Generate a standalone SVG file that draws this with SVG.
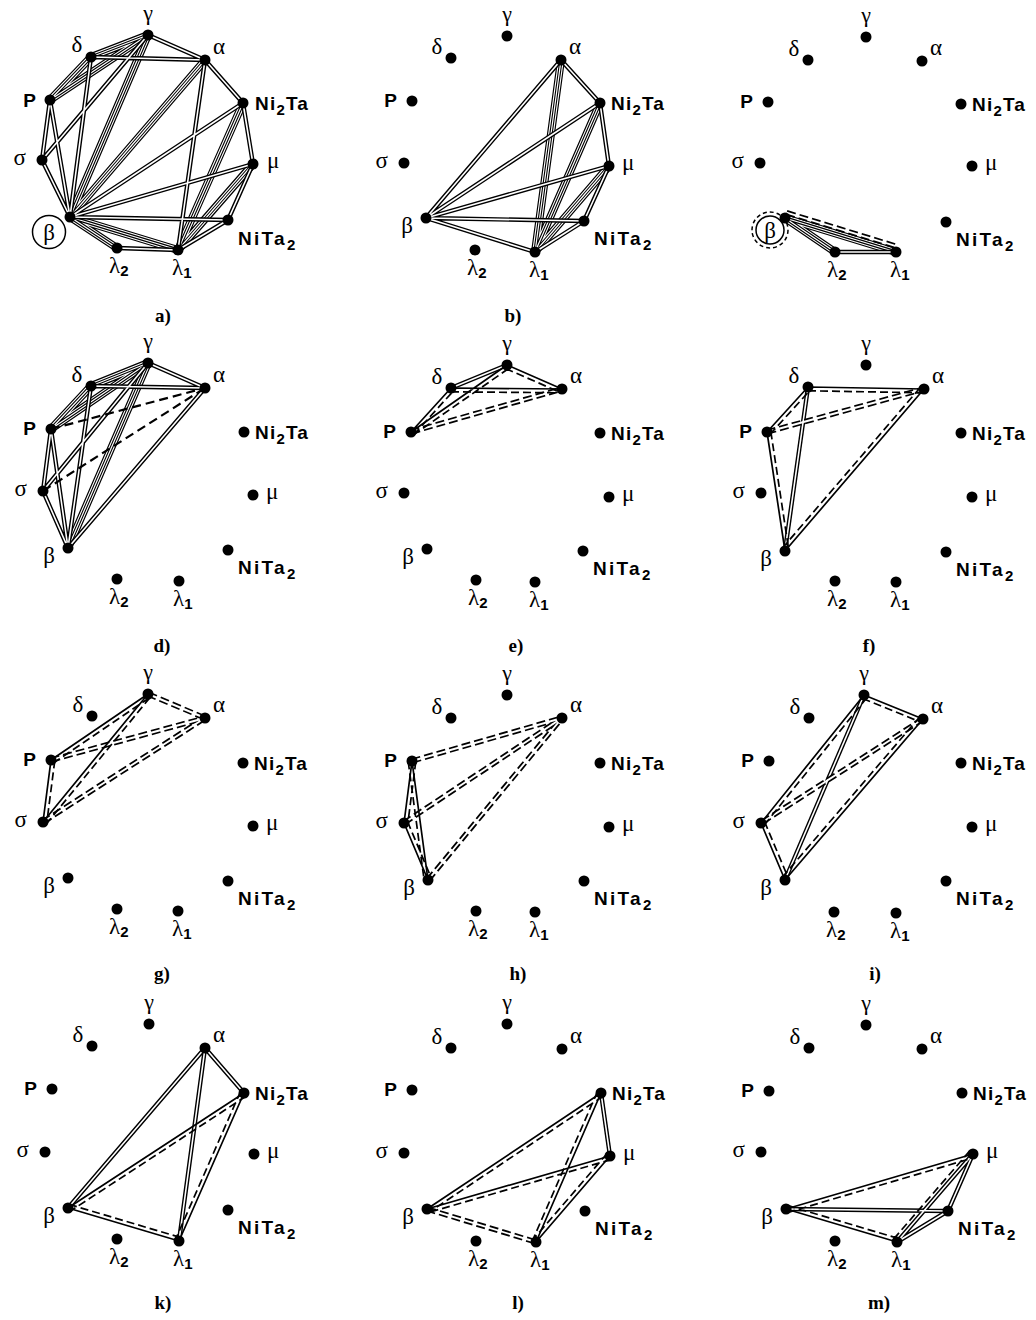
<svg xmlns="http://www.w3.org/2000/svg" xmlns:xlink="http://www.w3.org/1999/xlink" width="1036" height="1320" viewBox="0 0 1036 1320">
<style>
text{font-family:"Liberation Serif","Times New Roman",serif;fill:#000}
.gr{font-size:23px}
.gm{font-size:22px}
.b{font-family:"Liberation Sans",Arial,sans-serif;font-weight:bold;font-size:19px}
.sub{font-family:"Liberation Sans",Arial,sans-serif;font-weight:bold;font-size:15px}
.ni2{letter-spacing:1.2px}
.nit{letter-spacing:2.3px}
.m{text-anchor:middle}
.e{text-anchor:end}
.cap{font-weight:bold;font-size:19px;text-anchor:middle}
.d1{fill:none;stroke:#000;stroke-width:4.4}
.d2{fill:none;stroke:#fff;stroke-width:1.6}
.q1{fill:none;stroke:#000;stroke-width:8}
.q2{fill:none;stroke:#fff;stroke-width:5.6}
.q3{fill:none;stroke:#000;stroke-width:3.4}
.q4{fill:none;stroke:#fff;stroke-width:1.2}
.w1{fill:none;stroke:#000;stroke-width:5.4;stroke-dasharray:9 4}
.w2{fill:none;stroke:#fff;stroke-width:1.9}
.sl{fill:none;stroke:#000;stroke-width:1.7}
.ds{fill:none;stroke:#000;stroke-width:1.7;stroke-dasharray:8 4}
.dk{fill:none;stroke:#000;stroke-width:2.2;stroke-dasharray:9 5}
.ring{fill:none;stroke:#000;stroke-width:1.5}
.dring{fill:none;stroke:#000;stroke-width:1.5;stroke-dasharray:4 3}
</style>
<defs>
<path id="a-Q" d="M148 35L91 57M91 57L50 100M70 217L117 248M50 100L148 35M148 35L70 217M205 60L70 217M243 103L178 250M253 164L178 250M178 250L70 217"/>
<path id="a-D" d="M50 100L42 160M42 160L70 217M117 248L178 250M178 250L228 220M228 220L253 164M253 164L243 103M243 103L205 60M205 60L148 35M91 57L205 60M42 160L148 35M91 57L70 217M50 100L70 217M205 60L178 250M243 103L70 217M253 164L70 217M228 220L70 217"/>
<path id="b-Q" d="M561 60L535 252M600 103L535 252M609 166L535 252"/>
<path id="b-D" d="M561 60L600 103M561 60L426 218M600 103L609 166M600 103L426 218M609 166L584 221M609 166L426 218M584 221L426 218M584 221L535 252M426 218L535 252"/>
<path id="c-Q" d="M785 218L835 252M785 218L896 252"/>
<path id="c-D" d="M835 252L896 252"/>
<path id="c-W" d="M786.6 212.7L897.6 246.7"/>
<path id="d-Q" d="M148 363L91 386M148 363L51 429M148 363L68 548M91 386L51 429"/>
<path id="d-D" d="M148 363L205 388M148 363L43 491M91 386L205 388M91 386L68 548M51 429L43 491M51 429L68 548M43 491L68 548M205 388L68 548"/>
<path id="e-D" d="M451 388L507 365"/>
<path id="e-W" d="M411 432L562 389"/>
<path id="f-D" d="M808 387L785 551"/>
<path id="f-W" d="M767 432L924 389"/>
<path id="g-W" d="M148 694L205 718M51 760L205 718M43 822L205 718"/>
<path id="h-W" d="M412 761L562 718M404 823L562 718M428 880L562 718"/>
<path id="i-D" d="M864 695L785 880"/>
<path id="i-W" d="M923 719L761 823"/>
<path id="k-D" d="M205 1048L244 1093M205 1048L68 1208M205 1048L179 1241"/>
<path id="l-D" d="M601 1093L610 1156"/>
<path id="l-W" d="M427 1209L536 1242"/>
<path id="m-D" d="M786 1209L948 1211M973 1154L948 1211M948 1211L897 1242M973 1154L897 1242"/>
</defs>
<rect width="1036" height="1320" fill="#fff"/>

<!-- Panel a -->
<g id="panel-a">
<g id="a-connectors">
<use href="#a-Q" class="q1"/><use href="#a-Q" class="q2"/><use href="#a-Q" class="q3"/><use href="#a-Q" class="q4"/>
<use href="#a-D" class="d1"/><use href="#a-D" class="d2"/>
</g>
<g id="a-gamma"><circle cx="148" cy="35" r="5.5"/><text class="gr gm m" x="148" y="20">γ</text></g>
<g id="a-delta"><circle cx="91" cy="57" r="5.5"/><text class="gr m" x="77" y="52">δ</text></g>
<g id="a-alpha"><circle cx="205" cy="60" r="5.5"/><text class="gr" x="213" y="54">α</text></g>
<g id="a-ni2ta"><circle cx="243" cy="103" r="5.5"/><text class="b ni2" x="255" y="110">Ni<tspan class="sub" dy="5">2</tspan><tspan dy="-5">Ta</tspan></text></g>
<g id="a-mu"><circle cx="253" cy="164" r="5.5"/><text class="gr" x="267" y="168">μ</text></g>
<g id="a-nita2"><circle cx="228" cy="220" r="5.5"/><text class="b nit" x="238" y="245">NiTa<tspan class="sub" dy="5">2</tspan></text></g>
<g id="a-lambda1"><circle cx="178" cy="250" r="5.5"/><text class="gr" x="172" y="275">λ<tspan class="sub" dy="3">1</tspan></text></g>
<g id="a-lambda2"><circle cx="117" cy="248" r="5.5"/><text class="gr" x="109" y="273">λ<tspan class="sub" dy="3">2</tspan></text></g>
<g id="a-beta"><circle cx="70" cy="217" r="5.5"/><circle class="ring" cx="49" cy="232" r="16.5"/><text class="gr m" x="49" y="240">β</text></g>
<g id="a-sigma"><circle cx="42" cy="160" r="5.5"/><text class="gr e" x="26" y="165">σ</text></g>
<g id="a-p"><circle cx="50" cy="100" r="5.5"/><text class="b e" x="36" y="107">P</text></g>
<text class="cap" x="163" y="322">a)</text>
</g>

<!-- Panel b -->
<g id="panel-b">
<g id="b-connectors">
<use href="#b-Q" class="q1"/><use href="#b-Q" class="q2"/><use href="#b-Q" class="q3"/><use href="#b-Q" class="q4"/>
<use href="#b-D" class="d1"/><use href="#b-D" class="d2"/>
</g>
<g id="b-gamma"><circle cx="507" cy="36" r="5.5"/><text class="gr gm m" x="507" y="21">γ</text></g>
<g id="b-delta"><circle cx="451" cy="58" r="5.5"/><text class="gr m" x="437" y="54">δ</text></g>
<g id="b-alpha"><circle cx="561" cy="60" r="5.5"/><text class="gr" x="569" y="54">α</text></g>
<g id="b-ni2ta"><circle cx="600" cy="103" r="5.5"/><text class="b ni2" x="611" y="110">Ni<tspan class="sub" dy="5">2</tspan><tspan dy="-5">Ta</tspan></text></g>
<g id="b-mu"><circle cx="609" cy="166" r="5.5"/><text class="gr" x="622" y="170">μ</text></g>
<g id="b-nita2"><circle cx="584" cy="221" r="5.5"/><text class="b nit" x="594" y="245">NiTa<tspan class="sub" dy="5">2</tspan></text></g>
<g id="b-lambda1"><circle cx="535" cy="252" r="5.5"/><text class="gr" x="529" y="277">λ<tspan class="sub" dy="3">1</tspan></text></g>
<g id="b-lambda2"><circle cx="475" cy="250" r="5.5"/><text class="gr" x="467" y="275">λ<tspan class="sub" dy="3">2</tspan></text></g>
<g id="b-beta"><circle cx="426" cy="218" r="5.5"/><text class="gr e" x="413" y="233">β</text></g>
<g id="b-sigma"><circle cx="404" cy="163" r="5.5"/><text class="gr e" x="388" y="168">σ</text></g>
<g id="b-p"><circle cx="412" cy="101" r="5.5"/><text class="b e" x="397" y="107">P</text></g>
<text class="cap" x="513" y="322">b)</text>
</g>

<!-- Panel c -->
<g id="panel-c">
<g id="c-connectors">
<use href="#c-Q" class="q1"/><use href="#c-Q" class="q2"/><use href="#c-Q" class="q3"/><use href="#c-Q" class="q4"/>
<use href="#c-D" class="d1"/><use href="#c-D" class="d2"/>
<use href="#c-W" class="w1"/><use href="#c-W" class="w2"/>
</g>
<g id="c-gamma"><circle cx="866" cy="37" r="5.5"/><text class="gr gm m" x="866" y="22">γ</text></g>
<g id="c-delta"><circle cx="808" cy="60" r="5.5"/><text class="gr m" x="794" y="56">δ</text></g>
<g id="c-alpha"><circle cx="922" cy="61" r="5.5"/><text class="gr" x="930" y="55">α</text></g>
<g id="c-ni2ta"><circle cx="961" cy="104" r="5.5"/><text class="b ni2" x="972" y="111">Ni<tspan class="sub" dy="5">2</tspan><tspan dy="-5">Ta</tspan></text></g>
<g id="c-mu"><circle cx="972" cy="166" r="5.5"/><text class="gr" x="985" y="170">μ</text></g>
<g id="c-nita2"><circle cx="946" cy="222" r="5.5"/><text class="b nit" x="956" y="246">NiTa<tspan class="sub" dy="5">2</tspan></text></g>
<g id="c-lambda1"><circle cx="896" cy="252" r="5.5"/><text class="gr" x="890" y="277">λ<tspan class="sub" dy="3">1</tspan></text></g>
<g id="c-lambda2"><circle cx="835" cy="252" r="5.5"/><text class="gr" x="827" y="277">λ<tspan class="sub" dy="3">2</tspan></text></g>
<g id="c-beta"><circle cx="785" cy="218" r="5.5"/><circle class="ring" cx="770" cy="230" r="14"/><circle class="dring" cx="770" cy="230" r="18"/><text class="gr m" x="770" y="238">β</text></g>
<g id="c-sigma"><circle cx="760" cy="163" r="5.5"/><text class="gr e" x="744" y="168">σ</text></g>
<g id="c-p"><circle cx="768" cy="102" r="5.5"/><text class="b e" x="753" y="108">P</text></g>
</g>

<!-- Panel d -->
<g id="panel-d">
<g id="d-connectors">
<use href="#d-Q" class="q1"/><use href="#d-Q" class="q2"/><use href="#d-Q" class="q3"/><use href="#d-Q" class="q4"/>
<use href="#d-D" class="d1"/><use href="#d-D" class="d2"/>
<path class="dk" d="M51 429L205 388M43 491L205 388"/>
</g>
<g id="d-gamma"><circle cx="148" cy="363" r="5.5"/><text class="gr gm m" x="148" y="348">γ</text></g>
<g id="d-delta"><circle cx="91" cy="386" r="5.5"/><text class="gr m" x="77" y="382">δ</text></g>
<g id="d-alpha"><circle cx="205" cy="388" r="5.5"/><text class="gr" x="213" y="382">α</text></g>
<g id="d-ni2ta"><circle cx="244" cy="432" r="5.5"/><text class="b ni2" x="255" y="439">Ni<tspan class="sub" dy="5">2</tspan><tspan dy="-5">Ta</tspan></text></g>
<g id="d-mu"><circle cx="253" cy="495" r="5.5"/><text class="gr" x="266" y="499">μ</text></g>
<g id="d-nita2"><circle cx="228" cy="550" r="5.5"/><text class="b nit" x="238" y="574">NiTa<tspan class="sub" dy="5">2</tspan></text></g>
<g id="d-lambda1"><circle cx="179" cy="581" r="5.5"/><text class="gr" x="173" y="606">λ<tspan class="sub" dy="3">1</tspan></text></g>
<g id="d-lambda2"><circle cx="117" cy="579" r="5.5"/><text class="gr" x="109" y="604">λ<tspan class="sub" dy="3">2</tspan></text></g>
<g id="d-beta"><circle cx="68" cy="548" r="5.5"/><text class="gr e" x="55" y="563">β</text></g>
<g id="d-sigma"><circle cx="43" cy="491" r="5.5"/><text class="gr e" x="27" y="496">σ</text></g>
<g id="d-p"><circle cx="51" cy="429" r="5.5"/><text class="b e" x="36" y="435">P</text></g>
<text class="cap" x="162" y="652">d)</text>
</g>

<!-- Panel e -->
<g id="panel-e">
<g id="e-connectors">
<use href="#e-D" class="d1"/><use href="#e-D" class="d2"/>
<use href="#e-W" class="w1"/><use href="#e-W" class="w2"/>
<path class="sl" d="M411 432L451 388M411 432L507 365M507 365L562 389M451 388L562 389"/>
<path class="ds" d="M413.8 434.5L453.8 390.5M413.2 435.1L509.2 368.1M505.5 368.5L560.5 392.5M451 391.8L562 392.8"/>
</g>
<g id="e-gamma"><circle cx="507" cy="365" r="5.5"/><text class="gr gm m" x="507" y="350">γ</text></g>
<g id="e-delta"><circle cx="451" cy="388" r="5.5"/><text class="gr m" x="437" y="384">δ</text></g>
<g id="e-alpha"><circle cx="562" cy="389" r="5.5"/><text class="gr" x="570" y="383">α</text></g>
<g id="e-ni2ta"><circle cx="600" cy="433" r="5.5"/><text class="b ni2" x="611" y="440">Ni<tspan class="sub" dy="5">2</tspan><tspan dy="-5">Ta</tspan></text></g>
<g id="e-mu"><circle cx="609" cy="497" r="5.5"/><text class="gr" x="622" y="501">μ</text></g>
<g id="e-nita2"><circle cx="583" cy="551" r="5.5"/><text class="b nit" x="593" y="575">NiTa<tspan class="sub" dy="5">2</tspan></text></g>
<g id="e-lambda1"><circle cx="535" cy="582" r="5.5"/><text class="gr" x="529" y="607">λ<tspan class="sub" dy="3">1</tspan></text></g>
<g id="e-lambda2"><circle cx="476" cy="580" r="5.5"/><text class="gr" x="468" y="605">λ<tspan class="sub" dy="3">2</tspan></text></g>
<g id="e-beta"><circle cx="427" cy="549" r="5.5"/><text class="gr e" x="414" y="564">β</text></g>
<g id="e-sigma"><circle cx="404" cy="493" r="5.5"/><text class="gr e" x="388" y="498">σ</text></g>
<g id="e-p"><circle cx="411" cy="432" r="5.5"/><text class="b e" x="396" y="438">P</text></g>
<text class="cap" x="516" y="652">e)</text>
</g>

<!-- Panel f -->
<g id="panel-f">
<g id="f-connectors">
<use href="#f-D" class="d1"/><use href="#f-D" class="d2"/>
<use href="#f-W" class="w1"/><use href="#f-W" class="w2"/>
<path class="sl" d="M808 387L924 389M767 432L808 387M767 432L785 551M785 551L924 389"/>
<path class="ds" d="M808 390.8L924 392.8M769.8 434.5L810.8 389.5M770.8 431.4L788.8 550.4M782.1 548.5L921.1 386.5"/>
</g>
<g id="f-gamma"><circle cx="866" cy="365" r="5.5"/><text class="gr gm m" x="866" y="350">γ</text></g>
<g id="f-delta"><circle cx="808" cy="387" r="5.5"/><text class="gr m" x="794" y="383">δ</text></g>
<g id="f-alpha"><circle cx="924" cy="389" r="5.5"/><text class="gr" x="932" y="383">α</text></g>
<g id="f-ni2ta"><circle cx="961" cy="433" r="5.5"/><text class="b ni2" x="972" y="440">Ni<tspan class="sub" dy="5">2</tspan><tspan dy="-5">Ta</tspan></text></g>
<g id="f-mu"><circle cx="972" cy="497" r="5.5"/><text class="gr" x="985" y="501">μ</text></g>
<g id="f-nita2"><circle cx="946" cy="552" r="5.5"/><text class="b nit" x="956" y="576">NiTa<tspan class="sub" dy="5">2</tspan></text></g>
<g id="f-lambda1"><circle cx="896" cy="582" r="5.5"/><text class="gr" x="890" y="607">λ<tspan class="sub" dy="3">1</tspan></text></g>
<g id="f-lambda2"><circle cx="835" cy="581" r="5.5"/><text class="gr" x="827" y="606">λ<tspan class="sub" dy="3">2</tspan></text></g>
<g id="f-beta"><circle cx="785" cy="551" r="5.5"/><text class="gr e" x="772" y="566">β</text></g>
<g id="f-sigma"><circle cx="761" cy="493" r="5.5"/><text class="gr e" x="745" y="498">σ</text></g>
<g id="f-p"><circle cx="767" cy="432" r="5.5"/><text class="b e" x="752" y="438">P</text></g>
<text class="cap" x="869" y="652">f)</text>
</g>

<!-- Panel g -->
<g id="panel-g">
<g id="g-connectors">
<use href="#g-W" class="w1"/><use href="#g-W" class="w2"/>
<path class="sl" d="M51 760L148 694M51 760L43 822M43 822L148 694"/>
<path class="ds" d="M53.1 763.2L150.1 697.2M54.8 760.5L46.8 822.5M45.9 824.4L150.9 696.4"/>
</g>
<g id="g-gamma"><circle cx="148" cy="694" r="5.5"/><text class="gr gm m" x="148" y="679">γ</text></g>
<g id="g-delta"><circle cx="92" cy="716" r="5.5"/><text class="gr m" x="78" y="712">δ</text></g>
<g id="g-alpha"><circle cx="205" cy="718" r="5.5"/><text class="gr" x="213" y="712">α</text></g>
<g id="g-ni2ta"><circle cx="243" cy="763" r="5.5"/><text class="b ni2" x="254" y="770">Ni<tspan class="sub" dy="5">2</tspan><tspan dy="-5">Ta</tspan></text></g>
<g id="g-mu"><circle cx="253" cy="826" r="5.5"/><text class="gr" x="266" y="830">μ</text></g>
<g id="g-nita2"><circle cx="228" cy="881" r="5.5"/><text class="b nit" x="238" y="905">NiTa<tspan class="sub" dy="5">2</tspan></text></g>
<g id="g-lambda1"><circle cx="178" cy="911" r="5.5"/><text class="gr" x="172" y="936">λ<tspan class="sub" dy="3">1</tspan></text></g>
<g id="g-lambda2"><circle cx="117" cy="909" r="5.5"/><text class="gr" x="109" y="934">λ<tspan class="sub" dy="3">2</tspan></text></g>
<g id="g-beta"><circle cx="68" cy="878" r="5.5"/><text class="gr e" x="55" y="893">β</text></g>
<g id="g-sigma"><circle cx="43" cy="822" r="5.5"/><text class="gr e" x="27" y="827">σ</text></g>
<g id="g-p"><circle cx="51" cy="760" r="5.5"/><text class="b e" x="36" y="766">P</text></g>
<text class="cap" x="162" y="980">g)</text>
</g>

<!-- Panel h -->
<g id="panel-h">
<g id="h-connectors">
<use href="#h-W" class="w1"/><use href="#h-W" class="w2"/>
<path class="sl" d="M412 761L404 823M404 823L428 880M412 761L428 880"/>
<path class="ds" d="M415.8 761.5L407.8 823.5M407.5 821.5L431.5 878.5M408.2 761.5L424.2 880.5"/>
</g>
<g id="h-gamma"><circle cx="507" cy="695" r="5.5"/><text class="gr gm m" x="507" y="680">γ</text></g>
<g id="h-delta"><circle cx="451" cy="718" r="5.5"/><text class="gr m" x="437" y="714">δ</text></g>
<g id="h-alpha"><circle cx="562" cy="718" r="5.5"/><text class="gr" x="570" y="712">α</text></g>
<g id="h-ni2ta"><circle cx="600" cy="763" r="5.5"/><text class="b ni2" x="611" y="770">Ni<tspan class="sub" dy="5">2</tspan><tspan dy="-5">Ta</tspan></text></g>
<g id="h-mu"><circle cx="609" cy="827" r="5.5"/><text class="gr" x="622" y="831">μ</text></g>
<g id="h-nita2"><circle cx="584" cy="881" r="5.5"/><text class="b nit" x="594" y="905">NiTa<tspan class="sub" dy="5">2</tspan></text></g>
<g id="h-lambda1"><circle cx="535" cy="912" r="5.5"/><text class="gr" x="529" y="937">λ<tspan class="sub" dy="3">1</tspan></text></g>
<g id="h-lambda2"><circle cx="476" cy="911" r="5.5"/><text class="gr" x="468" y="936">λ<tspan class="sub" dy="3">2</tspan></text></g>
<g id="h-beta"><circle cx="428" cy="880" r="5.5"/><text class="gr e" x="415" y="895">β</text></g>
<g id="h-sigma"><circle cx="404" cy="823" r="5.5"/><text class="gr e" x="388" y="828">σ</text></g>
<g id="h-p"><circle cx="412" cy="761" r="5.5"/><text class="b e" x="397" y="767">P</text></g>
<text class="cap" x="518" y="980">h)</text>
</g>

<!-- Panel i -->
<g id="panel-i">
<g id="i-connectors">
<use href="#i-D" class="d1"/><use href="#i-D" class="d2"/>
<use href="#i-W" class="w1"/><use href="#i-W" class="w2"/>
<path class="sl" d="M864 695L923 719M864 695L761 823M923 719L785 880M761 823L785 880"/>
<path class="ds" d="M862.6 698.5L921.6 722.5M867 697.4L764 825.4M920.1 716.5L782.1 877.5M764.5 821.5L788.5 878.5"/>
</g>
<g id="i-gamma"><circle cx="864" cy="695" r="5.5"/><text class="gr gm m" x="864" y="680">γ</text></g>
<g id="i-delta"><circle cx="809" cy="718" r="5.5"/><text class="gr m" x="795" y="714">δ</text></g>
<g id="i-alpha"><circle cx="923" cy="719" r="5.5"/><text class="gr" x="931" y="713">α</text></g>
<g id="i-ni2ta"><circle cx="961" cy="763" r="5.5"/><text class="b ni2" x="972" y="770">Ni<tspan class="sub" dy="5">2</tspan><tspan dy="-5">Ta</tspan></text></g>
<g id="i-mu"><circle cx="972" cy="827" r="5.5"/><text class="gr" x="985" y="831">μ</text></g>
<g id="i-nita2"><circle cx="946" cy="881" r="5.5"/><text class="b nit" x="956" y="905">NiTa<tspan class="sub" dy="5">2</tspan></text></g>
<g id="i-lambda1"><circle cx="896" cy="913" r="5.5"/><text class="gr" x="890" y="938">λ<tspan class="sub" dy="3">1</tspan></text></g>
<g id="i-lambda2"><circle cx="834" cy="912" r="5.5"/><text class="gr" x="826" y="937">λ<tspan class="sub" dy="3">2</tspan></text></g>
<g id="i-beta"><circle cx="785" cy="880" r="5.5"/><text class="gr e" x="772" y="895">β</text></g>
<g id="i-sigma"><circle cx="761" cy="823" r="5.5"/><text class="gr e" x="745" y="828">σ</text></g>
<g id="i-p"><circle cx="769" cy="761" r="5.5"/><text class="b e" x="754" y="767">P</text></g>
<text class="cap" x="875" y="980">i)</text>
</g>

<!-- Panel k -->
<g id="panel-k">
<g id="k-connectors">
<use href="#k-D" class="d1"/><use href="#k-D" class="d2"/>
<path class="sl" d="M244 1093L68 1208M244 1093L179 1241M68 1208L179 1241"/>
<path class="ds" d="M246.1 1096.2L70.1 1211.2M240.5 1091.5L175.5 1239.5M69.1 1204.4L180.1 1237.4"/>
</g>
<g id="k-gamma"><circle cx="149" cy="1024" r="5.5"/><text class="gr gm m" x="149" y="1009">γ</text></g>
<g id="k-delta"><circle cx="92" cy="1046" r="5.5"/><text class="gr m" x="78" y="1042">δ</text></g>
<g id="k-alpha"><circle cx="205" cy="1048" r="5.5"/><text class="gr" x="213" y="1042">α</text></g>
<g id="k-ni2ta"><circle cx="244" cy="1093" r="5.5"/><text class="b ni2" x="255" y="1100">Ni<tspan class="sub" dy="5">2</tspan><tspan dy="-5">Ta</tspan></text></g>
<g id="k-mu"><circle cx="254" cy="1154" r="5.5"/><text class="gr" x="267" y="1158">μ</text></g>
<g id="k-nita2"><circle cx="228" cy="1210" r="5.5"/><text class="b nit" x="238" y="1234">NiTa<tspan class="sub" dy="5">2</tspan></text></g>
<g id="k-lambda1"><circle cx="179" cy="1241" r="5.5"/><text class="gr" x="173" y="1266">λ<tspan class="sub" dy="3">1</tspan></text></g>
<g id="k-lambda2"><circle cx="117" cy="1239" r="5.5"/><text class="gr" x="109" y="1264">λ<tspan class="sub" dy="3">2</tspan></text></g>
<g id="k-beta"><circle cx="68" cy="1208" r="5.5"/><text class="gr e" x="55" y="1223">β</text></g>
<g id="k-sigma"><circle cx="45" cy="1152" r="5.5"/><text class="gr e" x="29" y="1157">σ</text></g>
<g id="k-p"><circle cx="52" cy="1089" r="5.5"/><text class="b e" x="37" y="1095">P</text></g>
<text class="cap" x="163" y="1309">k)</text>
</g>

<!-- Panel l -->
<g id="panel-l">
<g id="l-connectors">
<use href="#l-D" class="d1"/><use href="#l-D" class="d2"/>
<use href="#l-W" class="w1"/><use href="#l-W" class="w2"/>
<path class="sl" d="M601 1093L427 1209M601 1093L536 1242M610 1156L427 1209M610 1156L536 1242"/>
<path class="ds" d="M603.1 1096.2L429.1 1212.2M597.5 1091.5L532.5 1240.5M611.1 1159.6L428.1 1212.6M607.1 1153.5L533.1 1239.5"/>
</g>
<g id="l-gamma"><circle cx="507" cy="1024" r="5.5"/><text class="gr gm m" x="507" y="1009">γ</text></g>
<g id="l-delta"><circle cx="451" cy="1048" r="5.5"/><text class="gr m" x="437" y="1044">δ</text></g>
<g id="l-alpha"><circle cx="562" cy="1049" r="5.5"/><text class="gr" x="570" y="1043">α</text></g>
<g id="l-ni2ta"><circle cx="601" cy="1093" r="5.5"/><text class="b ni2" x="612" y="1100">Ni<tspan class="sub" dy="5">2</tspan><tspan dy="-5">Ta</tspan></text></g>
<g id="l-mu"><circle cx="610" cy="1156" r="5.5"/><text class="gr" x="623" y="1160">μ</text></g>
<g id="l-nita2"><circle cx="585" cy="1211" r="5.5"/><text class="b nit" x="595" y="1235">NiTa<tspan class="sub" dy="5">2</tspan></text></g>
<g id="l-lambda1"><circle cx="536" cy="1242" r="5.5"/><text class="gr" x="530" y="1267">λ<tspan class="sub" dy="3">1</tspan></text></g>
<g id="l-lambda2"><circle cx="476" cy="1241" r="5.5"/><text class="gr" x="468" y="1266">λ<tspan class="sub" dy="3">2</tspan></text></g>
<g id="l-beta"><circle cx="427" cy="1209" r="5.5"/><text class="gr e" x="414" y="1224">β</text></g>
<g id="l-sigma"><circle cx="404" cy="1153" r="5.5"/><text class="gr e" x="388" y="1158">σ</text></g>
<g id="l-p"><circle cx="412" cy="1090" r="5.5"/><text class="b e" x="397" y="1096">P</text></g>
<text class="cap" x="518" y="1309">l)</text>
</g>

<!-- Panel m -->
<g id="panel-m">
<g id="m-connectors">
<use href="#m-D" class="d1"/><use href="#m-D" class="d2"/>
<path class="sl" d="M786 1209L973 1154M786 1209L897 1242"/>
<path class="ds" d="M787.1 1212.6L974.1 1157.6M787.1 1205.4L898.1 1238.4M969.6 1151.1L893.6 1239.1"/>
</g>
<g id="m-gamma"><circle cx="866" cy="1025" r="5.5"/><text class="gr gm m" x="866" y="1010">γ</text></g>
<g id="m-delta"><circle cx="809" cy="1048" r="5.5"/><text class="gr m" x="795" y="1044">δ</text></g>
<g id="m-alpha"><circle cx="922" cy="1049" r="5.5"/><text class="gr" x="930" y="1043">α</text></g>
<g id="m-ni2ta"><circle cx="962" cy="1093" r="5.5"/><text class="b ni2" x="973" y="1100">Ni<tspan class="sub" dy="5">2</tspan><tspan dy="-5">Ta</tspan></text></g>
<g id="m-mu"><circle cx="973" cy="1154" r="5.5"/><text class="gr" x="986" y="1158">μ</text></g>
<g id="m-nita2"><circle cx="948" cy="1211" r="5.5"/><text class="b nit" x="958" y="1235">NiTa<tspan class="sub" dy="5">2</tspan></text></g>
<g id="m-lambda1"><circle cx="897" cy="1242" r="5.5"/><text class="gr" x="891" y="1267">λ<tspan class="sub" dy="3">1</tspan></text></g>
<g id="m-lambda2"><circle cx="835" cy="1241" r="5.5"/><text class="gr" x="827" y="1266">λ<tspan class="sub" dy="3">2</tspan></text></g>
<g id="m-beta"><circle cx="786" cy="1209" r="5.5"/><text class="gr e" x="773" y="1224">β</text></g>
<g id="m-sigma"><circle cx="761" cy="1152" r="5.5"/><text class="gr e" x="745" y="1157">σ</text></g>
<g id="m-p"><circle cx="769" cy="1091" r="5.5"/><text class="b e" x="754" y="1097">P</text></g>
<text class="cap" x="879" y="1309">m)</text>
</g>
</svg>
